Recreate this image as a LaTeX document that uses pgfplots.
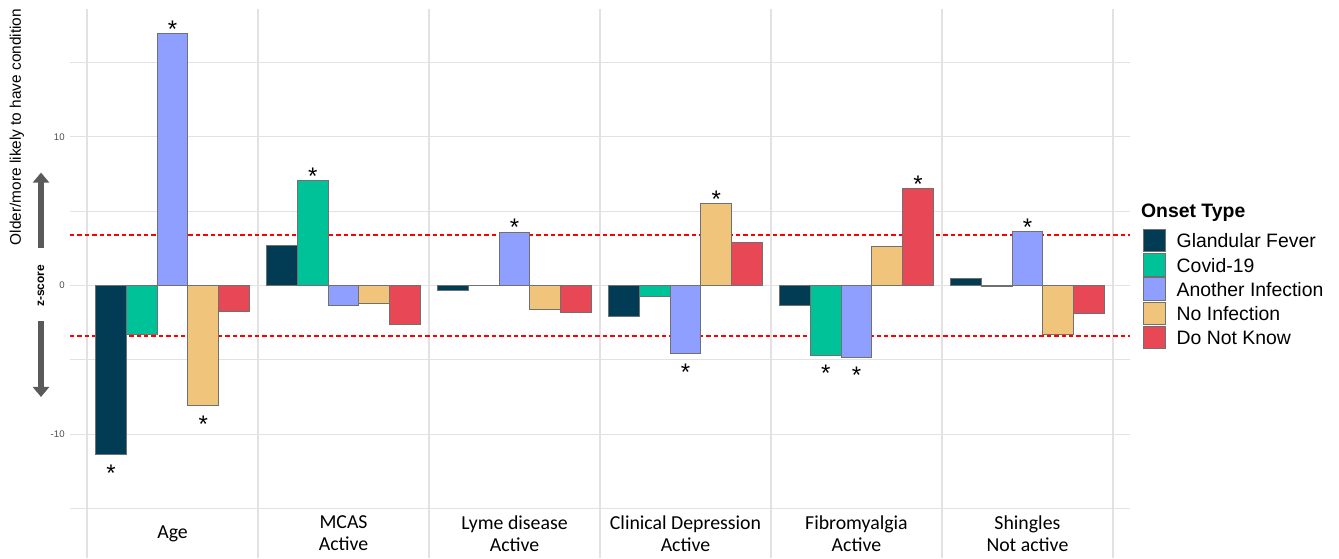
\documentclass[border=0pt]{standalone}
\usepackage{fontspec}
\setmainfont{Liberation Sans}
\newfontfamily\calibri{Carlito}
\usepackage{pgfplots}
\pgfplotsset{compat=1.18}
\usepackage{pgfplotstable}
\usetikzlibrary{arrows.meta}

\definecolor{cGF}{RGB}{2,60,84}
\definecolor{cCV}{RGB}{0,194,153}
\definecolor{cAI}{RGB}{143,159,255}
\definecolor{cNI}{RGB}{240,197,123}
\definecolor{cDK}{RGB}{232,72,86}
\definecolor{barline}{RGB}{112,112,112}
\definecolor{gridgray}{RGB}{226,226,226}
\definecolor{tickgray}{RGB}{77,77,77}
\definecolor{arrowgray}{RGB}{90,90,90}

% z-scores per condition (0 Age, 1 MCAS, 2 Lyme, 3 Depression, 4 Fibromyalgia, 5 Shingles)
\pgfplotstableread{
x y star
0 -11.40 *
1 2.68 {}
2 -0.31 {}
3 -2.12 {}
4 -1.37 {}
5 0.45 {}
}\glandular
\pgfplotstableread{
x y star
0 -3.30 {}
1 7.07 *
2 -0.03 {}
3 -0.77 {}
4 -4.69 *
5 -0.07 {}
}\covid
\pgfplotstableread{
x y star
0 16.95 *
1 -1.38 {}
2 3.58 *
3 -4.59 *
4 -4.83 *
5 3.63 *
}\another
\pgfplotstableread{
x y star
0 -8.06 *
1 -1.24 {}
2 -1.60 {}
3 5.48 *
4 2.65 {}
5 -3.31 {}
}\noinf
\pgfplotstableread{
x y star
0 -1.76 {}
1 -2.61 {}
2 -1.85 {}
3 2.88 {}
4 6.52 *
5 -1.89 {}
}\dontknow

% significance threshold lines
\pgfplotstableread{
x y
-0.6 3.38
5.6 3.38
}\upperlim
\pgfplotstableread{
x y
-0.6 -3.38
5.6 -3.38
}\lowerlim

\pgfplotsset{
  onset/.style={
    ybar, bar width=0.18, bar shift=0,
    draw=barline, line width=0.5pt,
    point meta=explicit symbolic,
    nodes near coords,
    visualization depends on={rawy \as \rawy},
    every node near coord/.append style={
      font=\fontsize{12}{12}\selectfont, text=black, draw=none, fill=none,
      inner sep=0pt, anchor=base,
      yshift=\ifdim\rawy pt<0pt -13.35pt\else -1.85pt\fi},
    legend image code/.code={%
      \draw[##1, draw=barline, line width=0.5pt] (0pt,-2.05pt) rectangle (11.2pt,9.15pt);
      \path (16.5pt,0pt);},
  },
}

\begin{document}
\begin{tikzpicture}
\begin{axis}[
  width=530pt, height=274.25pt, scale only axis,
  xmin=-0.6, xmax=5.6, ymin=-18.33, ymax=18.56,
  clip=false,
  axis line style={draw=none},
  tick style={draw=none},
  major tick length=0pt, minor tick length=0pt,
  xtick={-0.5,0.5,...,5.5}, xticklabel={},
  ytick={-10,0,10}, minor ytick={-15,-5,5,15},
  xmajorgrids, ymajorgrids, yminorgrids,
  x grid style={gridgray, line width=1.1pt},
  y grid style={gridgray, line width=0.6pt},
  /pgf/number format/assume math mode=true,
  yticklabel style={font=\fontsize{4.8}{5}\selectfont, text=tickgray,
    inner sep=0pt, xshift=-2.5pt},
  legend cell align=left,
  legend style={at={(1.01198,0.5998)}, anchor=north west, draw=none, fill=none,
    inner sep=0pt, outer sep=0pt, row sep=0pt,
    font=\fontsize{9.7}{11}\selectfont,
    nodes={inner sep=0pt, text height=9.15pt, text depth=2.7pt, anchor=base west}},
]
\addplot[red, line width=0.8pt, dash pattern=on 2.2pt off 1.5pt, forget plot]
  table[x=x, y=y] {\upperlim};
\addplot[red, line width=0.8pt, dash pattern=on 2.2pt off 1.5pt, forget plot]
  table[x=x, y=y] {\lowerlim};

% five bars per condition, dodged by 0.18
\addplot[onset, fill=cGF] table[x expr=\thisrow{x}-0.36, y=y, meta=star] {\glandular};
\addlegendentry{Glandular Fever}
\addplot[onset, fill=cCV] table[x expr=\thisrow{x}-0.18, y=y, meta=star] {\covid};
\addlegendentry{Covid-19}
\addplot[onset, fill=cAI] table[x expr=\thisrow{x}, y=y, meta=star] {\another};
\addlegendentry{Another Infection}
\addplot[onset, fill=cNI] table[x expr=\thisrow{x}+0.18, y=y, meta=star] {\noinf};
\addlegendentry{No Infection}
\addplot[onset, fill=cDK] table[x expr=\thisrow{x}+0.36, y=y, meta=star] {\dontknow};
\addlegendentry{Do Not Know}

% category names
\begin{scope}[every node/.style={font=\calibri\fontsize{9.9}{11}\selectfont, align=center, inner sep=0pt}]
\node at (axis cs:0,-16.68) {Age};
\node at (axis cs:1,-16.68) {MCAS\\Active};
\node at (axis cs:2,-16.68) {Lyme disease\\Active};
\node at (axis cs:3,-16.68) {Clinical Depression\\Active};
\node at (axis cs:4,-16.68) {Fibromyalgia\\Active};
\node at (axis cs:5,-16.68) {Shingles\\Not active};
\end{scope}

% y-axis description with direction arrows
\node[rotate=90, font=\fontsize{7.7}{8}\selectfont, inner sep=0pt]
  at (axis cs:-0.910,10.66) {Older/more likely to have condition};
\node[rotate=90, font=\bfseries\fontsize{6}{7}\selectfont, inner sep=0pt]
  at (axis cs:-0.7696,-0.03) {z-score};
\draw[arrowgray, line width=3.15pt, -{Triangle[width=8pt,length=5pt]}]
  (axis cs:-0.7696,2.52) -- (axis cs:-0.7696,7.59);
\draw[arrowgray, line width=3.15pt, -{Triangle[width=8pt,length=5pt]}]
  (axis cs:-0.7696,-2.39) -- (axis cs:-0.7696,-7.50);

% legend title
\node[anchor=base west, inner sep=0pt, font=\bfseries\fontsize{9.7}{11}\selectfont]
  at (rel axis cs:1.0101,0.6211) {Onset Type};

\coordinate (SW) at (rel axis cs:0,0);
\coordinate (NE) at (rel axis cs:1,1);
\end{axis}
\pgfresetboundingbox
\path[use as bounding box] ([xshift=-35pt]SW) rectangle ([xshift=104.5pt,yshift=4.75pt]NE);
\end{tikzpicture}
\end{document}
